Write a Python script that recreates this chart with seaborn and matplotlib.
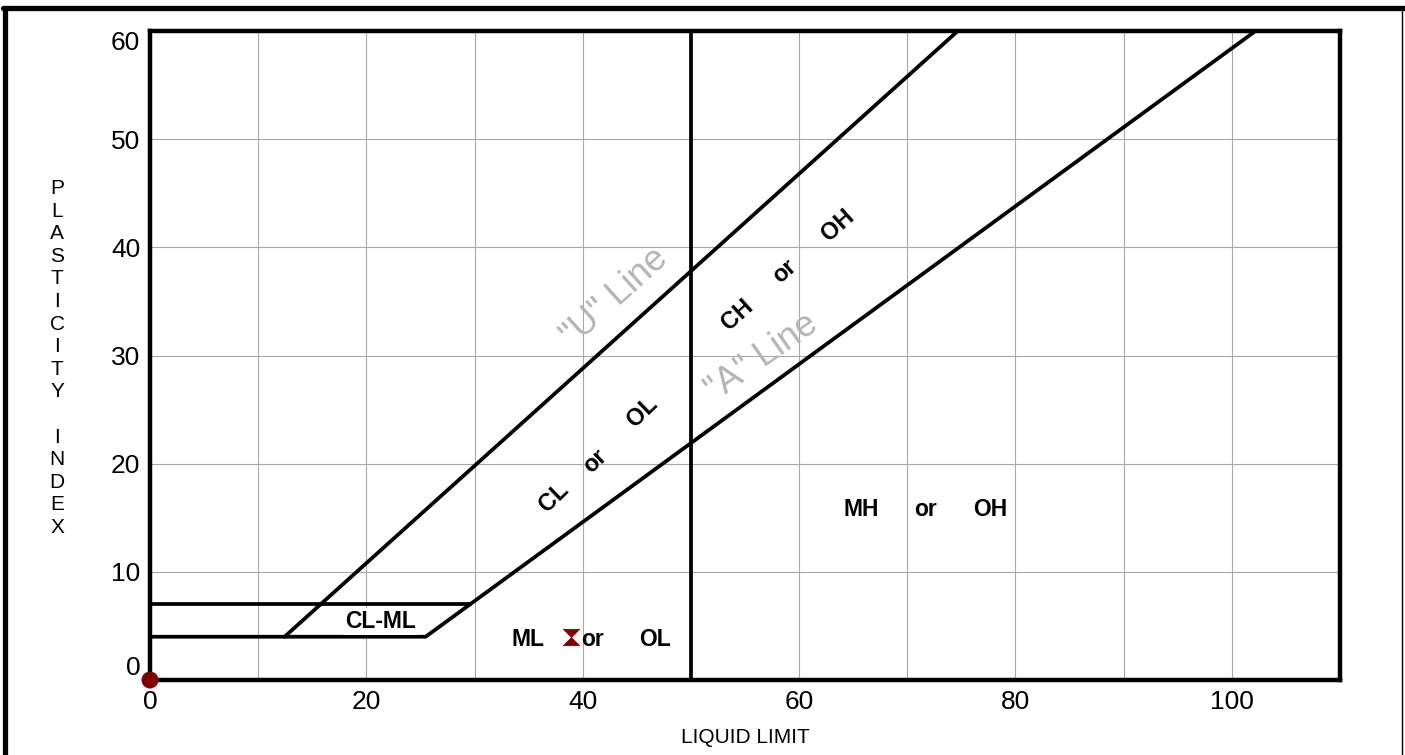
import numpy as np
import pandas as pd
import matplotlib
matplotlib.use("Agg")
import matplotlib.pyplot as plt
from matplotlib.path import Path
from matplotlib.lines import Line2D
import seaborn as sns

# ---------------- data ----------------
# boundary lines of the plasticity chart (liquid limit, plasticity index)
line_names = ["U line", "A line", "CL-ML top", "LL=50"]
u_ll = [12.44, 74.67]
u_pi = [4.0, 60.0]
a_ll = [0.0, 25.48, 102.19]
a_pi = [4.0, 4.0, 60.0]
clml_ll = [0.0, 29.59]
clml_pi = [7.0, 7.0]
ll50_ll = [50.0, 50.0]
ll50_pi = [0.0, 60.0]

# sample points
origin_ll = [0.0]
origin_pi = [0.0]
sample_ll = [38.9]
sample_pi = [4.0]

x_ticks = list(range(0, 111, 10))
x_tick_labels = ["0", "", "20", "", "40", "", "60", "", "80", "", "100", ""]
y_ticks = [0, 10, 20, 30, 40, 50, 60]
y_tick_labels = ["0", "10", "20", "30", "40", "50", "60"]

zone_labels = ["CL-ML", "ML", "or", "OL", "MH", "or", "OH"]
zone_ll = [21.3, 34.9, 40.9, 46.7, 65.7, 71.7, 77.7]
zone_pi = [5.4, 3.1, 3.1, 3.1, 15.2, 15.2, 15.2]

rot_labels_cl = ["CL", "or", "OL"]
rot_ll_cl = [37.3, 41.1, 45.5]
rot_pi_cl = [16.9, 20.2, 24.8]
rot_labels_ch = ["CH", "or", "OH"]
rot_ll_ch = [54.3, 58.7, 63.6]
rot_pi_ch = [33.8, 37.8, 42.0]

# ---------------- build frame ----------------
df = pd.concat([
    pd.DataFrame({"line": line_names[0], "LL": u_ll, "PI": u_pi}),
    pd.DataFrame({"line": line_names[1], "LL": a_ll, "PI": a_pi}),
    pd.DataFrame({"line": line_names[2], "LL": clml_ll, "PI": clml_pi}),
    pd.DataFrame({"line": line_names[3], "LL": ll50_ll, "PI": ll50_pi}),
], ignore_index=True)

sns.set_style("white")
plt.rcParams["font.family"] = ["Liberation Sans", "DejaVu Sans"]
plt.rcParams["text.color"] = "black"
plt.rcParams["axes.labelcolor"] = "black"
plt.rcParams["xtick.color"] = "black"
plt.rcParams["ytick.color"] = "black"

fig = plt.figure(figsize=(14.05, 7.55), dpi=100)
ax = fig.add_axes([150 / 1405, 1 - 680 / 755, 1190 / 1405, 649 / 755])

sns.lineplot(data=df, x="LL", y="PI", units="line", estimator=None, sort=False,
             color="black", linewidth=2.7, ax=ax, legend=False)

ax.set_xlim(0, 110)
ax.set_ylim(0, 60)
ax.set_xticks(x_ticks)
ax.set_xticklabels(x_tick_labels)
ax.set_yticks(y_ticks)
ax.set_yticklabels(y_tick_labels)
ax.tick_params(axis="both", length=0, labelsize=19, colors="black")
ax.tick_params(axis="x", pad=7)
ax.tick_params(axis="y", pad=7)
ylabs = ax.get_yticklabels()
ylabs[0].set_va("bottom")
ylabs[-1].set_va("top")

ax.grid(True, color="#a8a8a8", linewidth=0.8)
ax.set_axisbelow(True)
for s in ax.spines.values():
    s.set_visible(True)
    s.set_color("black")
    s.set_linewidth(3.2)

# markers
sns.scatterplot(x=origin_ll, y=origin_pi, color="#800000", s=150, edgecolor="none",
                ax=ax, clip_on=False, zorder=5, legend=False)
hourglass = Path([(-1, -1), (1, -1), (-1, 1), (1, 1), (-1, -1)],
                 [Path.MOVETO, Path.LINETO, Path.LINETO, Path.LINETO, Path.CLOSEPOLY])
ax.scatter(sample_ll, sample_pi, marker=hourglass, color="#800000", s=140,
           edgecolor="#800000", linewidth=0.5, zorder=5)

# zone labels
for lab, x, y in zip(zone_labels, zone_ll, zone_pi):
    kw = {}
    va = "baseline"
    if lab == "CL-ML":
        kw["bbox"] = dict(facecolor="white", edgecolor="none", pad=1.5)
        va = "center"
    ax.text(x, y, lab, ha="center", va=va, fontsize=16.5, fontweight="bold",
            color="black", zorder=6, **kw)

for lab, x, y in zip(rot_labels_cl, rot_ll_cl, rot_pi_cl):
    ax.text(x, y, lab, ha="center", va="center", fontsize=17, fontweight="bold",
            color="black", rotation=44, rotation_mode="anchor")
for lab, x, y in zip(rot_labels_ch, rot_ll_ch, rot_pi_ch):
    ax.text(x, y, lab, ha="center", va="center", fontsize=17, fontweight="bold",
            color="black", rotation=42, rotation_mode="anchor")

ax.text(43.0, 35.4, '"U" Line', ha="center", va="center", fontsize=26, color="#b4b4b4",
        rotation=42, rotation_mode="anchor")
ax.text(56.6, 29.8, '"A" Line', ha="center", va="center", fontsize=26, color="#b4b4b4",
        rotation=35, rotation_mode="anchor")

# axis labels
ax.set_xlabel("LIQUID LIMIT", fontsize=15, color="black")
ax.xaxis.set_label_coords(0.5, -0.074)
ax.set_ylabel("P\nL\nA\nS\nT\nI\nC\nI\nT\nY\n\nI\nN\nD\nE\nX", rotation=0,
              fontsize=15, linespacing=1.24, va="center", ha="center", color="black")
ax.yaxis.set_label_coords(-0.078, 0.496)

# figure frame
fig.add_artist(Line2D([5 / 1405, 5 / 1405], [-0.05, 1 - 7.5 / 755], color="black",
                      linewidth=3.8, transform=fig.transFigure))
fig.add_artist(Line2D([3 / 1405, 1.01], [1 - 7.5 / 755, 1 - 7.5 / 755], color="black",
                      linewidth=3.8, transform=fig.transFigure))
fig.add_artist(Line2D([1402 / 1405, 1402 / 1405], [-0.05, 1 - 7.5 / 755], color="black",
                      linewidth=1.0, transform=fig.transFigure))

fig.savefig("out.png", dpi=100)
